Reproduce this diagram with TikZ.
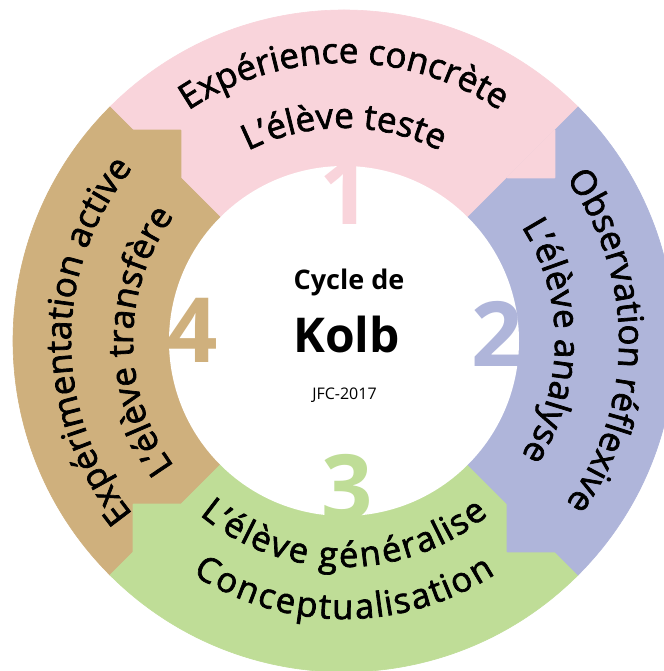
\documentclass[tikz,border=0pt]{standalone}
\usepackage{fontspec}
\setmainfont{Open Sans}
\newfontfamily\ringfont[FakeBold=2]{Open Sans}
\usetikzlibrary{decorations.text}
\definecolor{kpink}{RGB}{249,212,219}
\definecolor{kblue}{RGB}{175,181,218}
\definecolor{kgreen}{RGB}{191,221,151}
\definecolor{kbrown}{RGB}{207,176,125}
\newcommand\ringtext{\ringfont\fontsize{35}{42}\selectfont}
\newcommand\ringtextbig{\ringfont\fontsize{34.5}{42}\selectfont}
\begin{document}
\begin{tikzpicture}[x=1pt,y=1pt,
  sector/.style={fill=#1, draw=#1, line width=0.6pt},
  tabshape/.style={fill=#1, draw=#1, line width=1.2pt, line join=round},
  bignum/.style={font=\bfseries\fontsize{90}{90}\selectfont, text=#1, inner sep=0pt, anchor=base},
  ringpath/.style={decorate, decoration={text along path, text={|\ringtext|#1}, text align=center}},
  ringpathlow/.style 2 args={decorate, decoration={text along path, text={|\ringtextbig|#1}, text align=center, raise=#2}},
  centertext/.style={inner sep=0pt, anchor=base, text=black}
]
\useasboundingbox (-344,-330) rectangle (319,341);
\fill[white] (-344,-330) rectangle (319,341);
% sectors
\fill[sector=kpink]  (0,0) -- (45:331) arc[start angle=45, end angle=135, radius=331] -- cycle;
\fill[sector=kbrown] (0,0) -- (135:331) arc[start angle=135, end angle=225, radius=331] -- cycle;
\fill[sector=kgreen] (0,0) -- (225:331) arc[start angle=225, end angle=315, radius=331] -- cycle;
\fill[sector=kblue]  (0,0) -- (-45:331) arc[start angle=-45, end angle=45, radius=331] -- cycle;
% tabs
\fill[tabshape=kbrown] (135:231) -- (135:298) -- (127.782:266.61) -- cycle;
\fill[tabshape=kpink]  (45:231) -- (45:298) -- (37.782:266.61) -- cycle;
\fill[tabshape=kblue]  (-45:231) -- (-45:298) -- (-52.218:266.61) -- cycle;
\fill[tabshape=kgreen] (225:231) -- (225:298) -- (217.782:266.61) -- cycle;
% inner white disc
\fill[white] (0,0) circle[radius=175];
% numbers
\node[bignum=kpink]  (n1) at (1,116) {1};
\node[bignum=kblue]  (n2) at (153,-26) {2};
\node[bignum=kgreen] (n3) at (3,-178) {3};
\node[bignum=kbrown] (n4) at (-152,-22) {4};
% centre
\node[centertext, font=\bfseries\fontsize{27}{30}\selectfont] (t1) at (5,51) {Cycle de};
\node[centertext, font=\bfseries\fontsize{48}{50}\selectfont] (t2) at (2.5,-12) {Kolb};
\node[centertext, font=\fontsize{16}{18}\selectfont] (t3) at (0.5,-59) {JFC-2017};
% ring texts
\path[ringpath={Expérience concrète}] (150:278) arc[start angle=150, end angle=30, radius=278];
\path[ringpath={L’élève teste}] (150:213) arc[start angle=150, end angle=30, radius=213];
\path[ringpath={Observation réflexive}] (60:275) arc[start angle=60, end angle=-60, radius=275];
\path[ringpath={L’élève analyse}] (60:211) arc[start angle=60, end angle=-60, radius=211];
\path[ringpath={Expérimentation active}] (240:273) arc[start angle=240, end angle=120, radius=273];
\path[ringpath={L’élève transfère}] (240:211) arc[start angle=240, end angle=120, radius=211];
\path[ringpathlow={L’élève généralise}{-24pt}] (200:202) arc[start angle=200, end angle=340, radius=202];
\path[ringpathlow={Conceptualisation}{-29pt}] (200:249) arc[start angle=200, end angle=340, radius=249];
\end{tikzpicture}
\end{document}
